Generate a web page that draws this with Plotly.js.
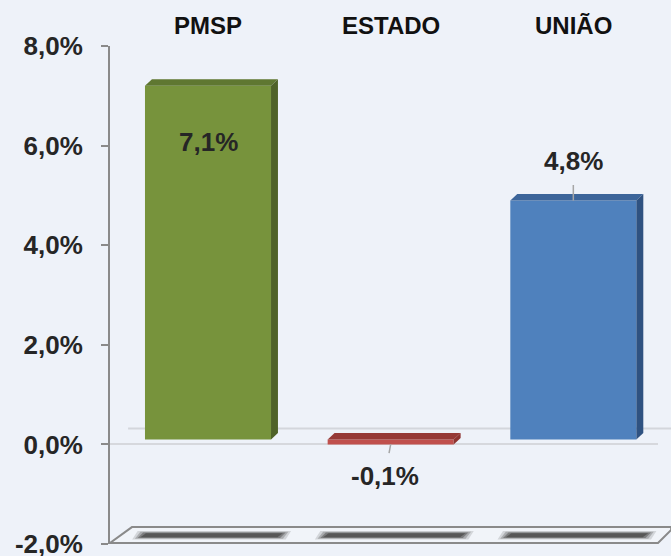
<!DOCTYPE html>
<html>
<head>
<meta charset="utf-8">
<script src="https://cdn.plot.ly/plotly-3.0.1.min.js"></script>
<style>html,body{margin:0;padding:0;background:#eef2f9;}#chart{width:671px;height:556px;}</style>
</head>
<body>
<div id="chart"></div>
<script>
// ---- data ----
const categories = ['PMSP', 'ESTADO', 'UNIÃO'];
const values = [7.1, -0.1, 4.8];
const tickValues = [-2, 0, 2, 4, 6, 8];
const tickLabels = ['-2,0%', '0,0%', '2,0%', '4,0%', '6,0%', '8,0%'];

// ---- styles ----
const frontColors = ['#77933c', '#c0504d', '#4f81bd'];
const sideColors  = ['#4f6228', '#8e3431', '#2f5281'];
const topColors   = ['#5f7731', '#963a37', '#3c659a'];
const barWidth = 0.69;
const depthX = 0.038;   // category units
const depthY = 0.13;    // value units
const textColor = '#262626';
const fontFam = 'Liberation Sans, Arial, sans-serif';
// label placement per bar
const labelStyle = [
  {mode: 'inside', yshift: -56},
  {mode: 'arrow', ax: -6, ay: 32},
  {mode: 'arrow', ax: 0, ay: -39}
];

const fmt = v => v.toFixed(1).replace('.', ',') + '%';
const xs = categories.map((c, i) => i);

const shapes = [];
// back gridline at zero (behind bars)
shapes.push({type: 'line', layer: 'below', xref: 'paper', yref: 'y',
  x0: 0.033, x1: 1.024, y0: 0.32, y1: 0.32, line: {color: '#d3d6dc', width: 2}});

// floor
shapes.push({type: 'path', layer: 'below', xref: 'paper', yref: 'paper',
  path: 'M0,0.002 L1,0.002 L1.024,0.028 L1.024,0.034 L0.04,0.034 Z',
  fillcolor: '#f1f4f9', line: {color: '#8a8a8a', width: 2}});

// shadows on the floor (layered to fake a blur)
xs.forEach((x, i) => {
  const layers = [
    {hw: 0.435, y0: -1.91, y1: -1.74, op: 0.18},
    {hw: 0.42, y0: -1.895, y1: -1.755, op: 0.3},
    {hw: 0.405, y0: -1.88, y1: -1.77, op: 0.5},
    {hw: 0.39, y0: -1.865, y1: -1.785, op: 0.8}
  ];
  layers.forEach(L => {
    const c = x + 0.02;
    shapes.push({type: 'path', layer: 'below', xref: 'x', yref: 'y',
      path: `M${c - L.hw},${L.y0} L${c + L.hw - 0.03},${L.y0} L${c + L.hw},${L.y1} L${c - L.hw + 0.03},${L.y1} Z`,
      fillcolor: '#4d4d4d', opacity: L.op, line: {width: 0}});
  });
});

// 3D faces of bars
xs.forEach((x, i) => {
  const v = values[i];
  const hi = Math.max(v, 0), lo = Math.min(v, 0);
  const xl = x - barWidth / 2, xr = x + barWidth / 2;
  shapes.push({type: 'path', xref: 'x', yref: 'y2',
    path: `M${xl},${hi} L${xr},${hi} L${xr + depthX},${hi + depthY} L${xl + depthX},${hi + depthY} Z`,
    fillcolor: topColors[i], line: {width: 0}});
  shapes.push({type: 'path', xref: 'x', yref: 'y2',
    path: `M${xr},${lo} L${xr},${hi} L${xr + depthX},${hi + depthY} L${xr + depthX},${lo + depthY} Z`,
    fillcolor: sideColors[i], line: {width: 0}});
});

const annotations = [];
// category labels on top
categories.forEach((c, i) => {
  annotations.push({x: i, xref: 'x', y: 1, yref: 'paper', yanchor: 'middle', yshift: 21,
    text: c, showarrow: false,
    font: {family: fontFam, size: 24, color: '#111111', weight: 700}});
});
// data labels
values.forEach((v, i) => {
  const s = labelStyle[i];
  const a = {x: i, xref: 'x', y: v, yref: 'y2', text: fmt(v),
    font: {family: fontFam, size: 26, color: textColor, weight: 700}};
  if (s.mode === 'inside') {
    a.showarrow = false; a.yshift = s.yshift;
  } else {
    a.showarrow = true; a.arrowhead = 0; a.arrowwidth = 1.5; a.arrowcolor = '#a6a6a6';
    a.ax = s.ax; a.ay = s.ay; a.startstandoff = 7;
  }
  annotations.push(a);
});

const trace = {
  type: 'bar', x: xs, y: values, yaxis: 'y2', width: barWidth,
  marker: {color: frontColors, line: {width: 0}},
  hoverinfo: 'skip'
};

const layout = {
  width: 671, height: 556,
  margin: {l: 110, r: 13, t: 46, b: 12, pad: 0},
  paper_bgcolor: '#eef2f9', plot_bgcolor: 'rgba(0,0,0,0)',
  showlegend: false,
  xaxis: {range: [-0.5365, 2.4635], visible: false, fixedrange: true},
  yaxis: {range: [-2, 8], tickvals: tickValues, ticktext: tickLabels,
    showgrid: false, zeroline: true, zerolinecolor: '#d6d8dd', zerolinewidth: 2,
    showline: true, linecolor: '#8a8a8a', linewidth: 2,
    ticks: 'outside', ticklen: 7, tickwidth: 2, tickcolor: '#8a8a8a',
    ticklabelstandoff: 13, ticklabeloverflow: 'allow',
    tickfont: {family: fontFam, size: 26, color: textColor, weight: 700}},
  yaxis2: {range: [-2.1, 7.9], overlaying: 'y', visible: false, fixedrange: true},
  shapes: shapes,
  annotations: annotations
};

Plotly.newPlot('chart', [trace], layout, {displayModeBar: false, staticPlot: true});
</script>
</body>
</html>
